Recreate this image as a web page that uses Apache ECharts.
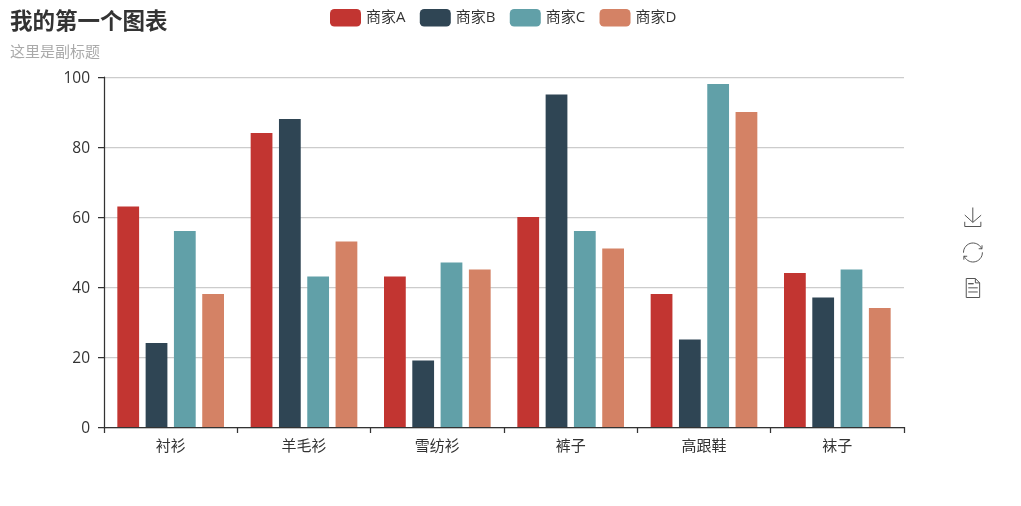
<!DOCTYPE html>
<html>
<head>
<meta charset="utf-8">
<script src="https://cdn.jsdelivr.net/npm/echarts@6/dist/echarts.min.js"></script>
<style>html,body{margin:0;padding:0;background:#fff}#c{width:1021px;height:506px}</style>
</head>
<body>
<div id="c"></div>
<script>
const categories = ['衬衫','羊毛衫','雪纺衫','裤子','高跟鞋','袜子'];
const seriesNames = ['商家A','商家B','商家C','商家D'];
const valuesA = [63,84,43,60,38,44];
const valuesB = [24,88,19,95,25,37];
const valuesC = [56,43,47,56,98,45];
const valuesD = [38,53,45,51,90,34];
const colors = ['#c23531','#2f4554','#61a0a8','#d48265'];
const font = '"Open Sans","Noto Sans CJK SC",sans-serif';
const chart = echarts.init(document.getElementById('c'));
chart.setOption({
  animation:false,
  color:colors,
  textStyle:{fontFamily:font},
  title:{text:'我的第一个图表',subtext:'这里是副标题',left:5,top:6,itemGap:12,
    textStyle:{fontSize:22.5,fontWeight:'bold',color:'#333',fontFamily:font},
    subtextStyle:{fontSize:15,color:'#aaa',fontFamily:font}},
  legend:{data:seriesNames,left:325,top:4,itemWidth:31,itemHeight:17.5,itemGap:14.3,icon:'roundRect',
    textStyle:{fontSize:15,color:'#333',fontFamily:font}},
  toolbox:{show:true,orient:'vertical',left:946,top:190,itemSize:19,itemGap:11.5,
    feature:{saveAsImage:{title:'保存'},restore:{title:'还原'},dataView:{title:'数据视图',readOnly:false}},
    iconStyle:{borderColor:'#555',color:'none'}},
  grid:{left:104,top:77,width:800,height:350,containLabel:false},
  xAxis:{type:'category',data:categories,
    axisLine:{show:true,lineStyle:{color:'#333',width:1.25}},
    axisTick:{show:true,alignWithLabel:false,length:6,lineStyle:{color:'#333',width:1.25}},
    axisLabel:{fontSize:15,color:'#333',margin:12,fontFamily:font},
    splitLine:{show:false}},
  yAxis:{type:'value',min:0,max:100,interval:20,
    axisLine:{show:true,lineStyle:{color:'#333',width:1.25}},
    axisTick:{show:true,length:6,lineStyle:{color:'#333',width:1.25}},
    axisLabel:{color:'#333',margin:14,formatter:'{n|{value}}',
      rich:{n:{fontSize:15.5,color:'#333',fontFamily:font,padding:[4,0,0,0]}}},
    splitLine:{show:true,lineStyle:{color:'#ccc',width:1.25}}},
  series:[
    {name:seriesNames[0],type:'bar',data:valuesA},
    {name:seriesNames[1],type:'bar',data:valuesB},
    {name:seriesNames[2],type:'bar',data:valuesC},
    {name:seriesNames[3],type:'bar',data:valuesD}
  ].map(s=>Object.assign(s,{barGap:'30%',barCategoryGap:'20%'}))
});
</script>
</body>
</html>
